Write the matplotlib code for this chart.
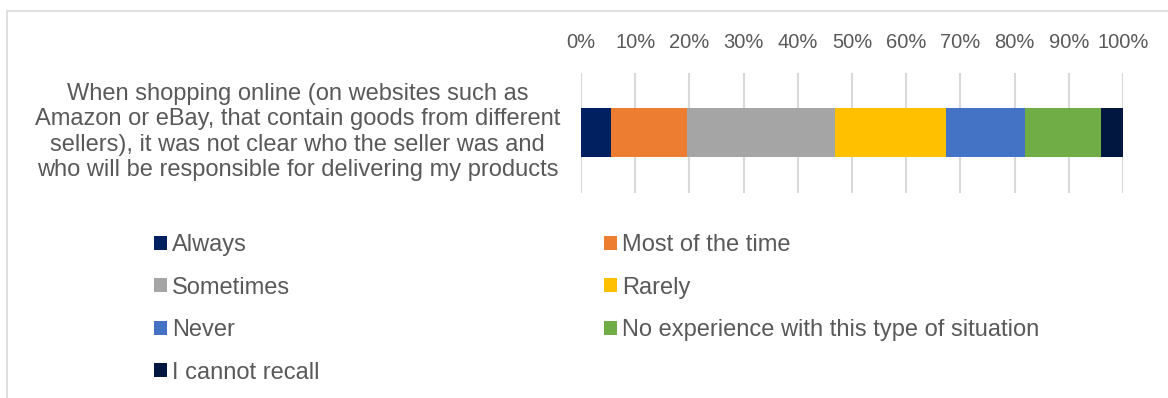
import matplotlib.pyplot as plt
from matplotlib.patches import Rectangle
from matplotlib.transforms import ScaledTranslation

plt.rcParams['font.family'] = ['Liberation Sans', 'DejaVu Sans']

# Survey answers, shares in percent
question = ('When shopping online (on websites such as\n'
            'Amazon or eBay, that contain goods from different\n'
            'sellers), it was not clear who the seller was and\n'
            'who will be responsible for delivering my products')
answers = ['Always', 'Most of the time', 'Sometimes', 'Rarely', 'Never',
           'No experience with this type of situation', 'I cannot recall']
shares = [5.5, 14.0, 27.3, 20.5, 14.6, 14.0, 4.1]
colors = ['#002060', '#ED7D31', '#A5A5A5', '#FFC000', '#4472C4', '#70AD47', '#021740']
ticks = [0, 10, 20, 30, 40, 50, 60, 70, 80, 90, 100]

grey = '#595959'
tick_size = 14.5
text_size = 17

fig = plt.figure(figsize=(11.68, 3.98), dpi=100)
ax = fig.add_axes([581 / 1168, 1 - 192.7 / 398, 542 / 1168, 120 / 398])

left = 0
bars = []
for name, val, col in zip(answers, shares, colors):
    b = ax.barh([0], [val], left=left, height=0.41, color=col, label=name, zorder=3)
    bars.append(b)
    left += val

ax.set_xlim(0, 100)
ax.set_ylim(-0.5, 0.5)
ax.set_xticks(ticks)
ax.set_xticklabels([f'{t}%' for t in ticks])
ax.xaxis.tick_top()
ax.tick_params(axis='x', length=0, pad=15, labelsize=tick_size, labelcolor=grey)
ax.set_yticks([0])
ax.set_yticklabels([question], multialignment='center', linespacing=1.2)
ax.tick_params(axis='y', length=0, pad=15, labelsize=text_size, labelcolor=grey)
# nudge the question text up a little
for lab in ax.get_yticklabels():
    lab.set_transform(lab.get_transform() + ScaledTranslation(0, 0.05, fig.dpi_scale_trans))
ax.grid(axis='x', color='#D9D9D9', linewidth=1.5, zorder=0)
for s in ax.spines.values():
    s.set_visible(False)

# legend filled column by column, so reorder to read row by row
order = [0, 2, 4, 6, 1, 3, 5]
leg = fig.legend([bars[i] for i in order], [answers[i] for i in order],
                 ncol=2, loc='upper left', bbox_to_anchor=(154 / 1168, 1 - 234 / 398),
                 frameon=False, fontsize=text_size, handlelength=0.54, handleheight=0.54,
                 handletextpad=0.21, labelspacing=0.87, columnspacing=12.06,
                 borderpad=0, borderaxespad=0)
for t in leg.get_texts():
    t.set_color(grey)

# chart area outline
fig.patches.append(Rectangle((7 / 1168, -0.1), 1.2, 1.1 - 11 / 398,
                             transform=fig.transFigure, fill=False,
                             edgecolor='#D9D9D9', linewidth=1.2))

fig.savefig('out.png', dpi=100)
